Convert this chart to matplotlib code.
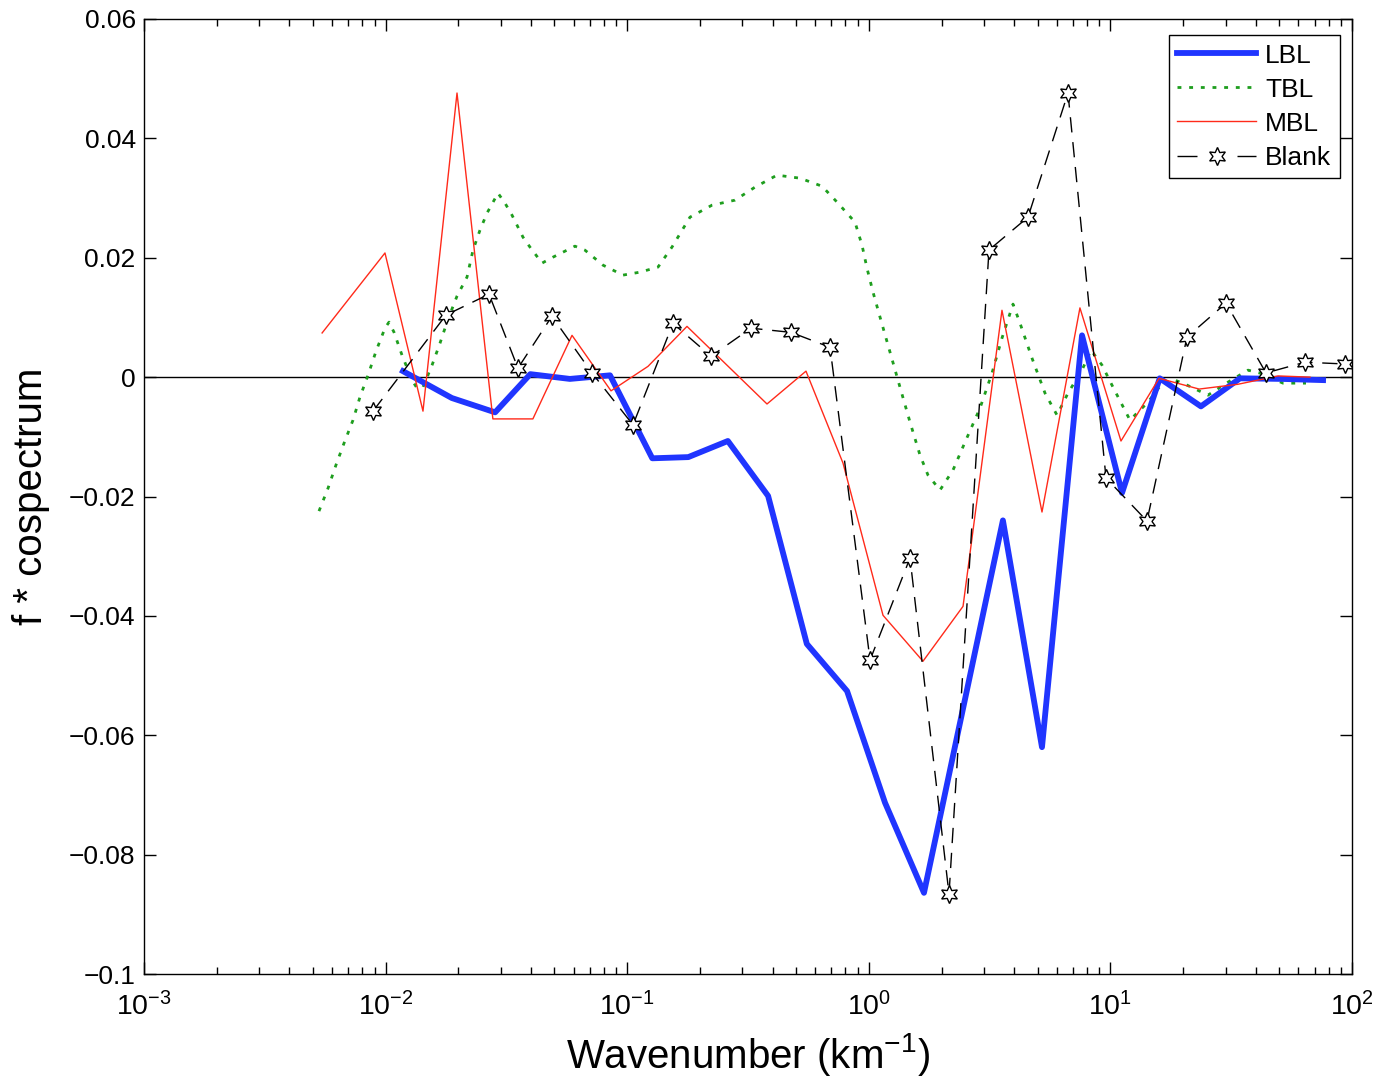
import numpy as np
import matplotlib
matplotlib.use('Agg')
import matplotlib.pyplot as plt
from matplotlib.ticker import LogLocator, FixedLocator, FuncFormatter

plt.rcParams['font.family'] = ['Liberation Sans', 'DejaVu Sans']
plt.rcParams['mathtext.fontset'] = 'custom'
plt.rcParams['mathtext.rm'] = 'Liberation Sans'
plt.rcParams['mathtext.it'] = 'Liberation Sans:italic'

# LBL (thick blue)
lbl_k = [0.0118, 0.0188, 0.0284, 0.0397, 0.0579, 0.0849, 0.127, 0.179, 0.261,
         0.383, 0.554, 0.813, 1.167, 1.692, 3.59, 5.21, 7.63, 11.17, 16.0,
         23.7, 34.4, 51.3, 75.9]
lbl_c = [0.0010, -0.0035, -0.0059, 0.0005, -0.0003, 0.0003, -0.0136, -0.0134,
         -0.0107, -0.0199, -0.0447, -0.0526, -0.0713, -0.0864, -0.0240, -0.0620,
         0.0070, -0.0194, -0.0002, -0.0049, -0.0002, -0.0003, -0.0005]

# TBL (green dotted)
tbl_k = [0.00530, 0.00578, 0.00623, 0.00673, 0.00733, 0.00783, 0.00846, 0.00913,
         0.00994, 0.01033, 0.01083, 0.01169, 0.01286, 0.01349, 0.01428, 0.01557,
         0.01680, 0.01813, 0.01975, 0.02172, 0.02300, 0.02458, 0.02628, 0.02919,
         0.03120, 0.03336, 0.03704, 0.03960, 0.04441, 0.04930, 0.05424, 0.06079,
         0.06687, 0.07939, 0.09607, 0.1130, 0.1341, 0.1532, 0.1819, 0.2244,
         0.2794, 0.3381, 0.4169, 0.5191, 0.6402, 0.7456, 0.8768, 0.9374, 0.9829,
         1.041, 1.113, 1.224, 1.346, 1.481, 1.629, 1.758, 1.971, 2.231, 2.502,
         2.886, 3.235, 3.558, 3.953, 4.224, 4.737, 5.362, 6.012, 6.675, 7.628,
         8.313, 9.231, 10.25, 12.05, 14.31, 16.51, 18.51, 20.76, 25.35, 30.68,
         37.11, 41.62, 51.81, 64.50]
tbl_c = [-0.02245, -0.01859, -0.01474, -0.01106, -0.00720, -0.00335, 0.00034,
         0.00436, 0.00821, 0.00921, 0.00754, 0.00369, -0.00050, -0.00184,
         -0.00168, 0.00201, 0.00570, 0.00972, 0.01357, 0.01675, 0.02127, 0.02462,
         0.02747, 0.03082, 0.02915, 0.02714, 0.02345, 0.02178, 0.01910, 0.02010,
         0.02094, 0.02194, 0.02127, 0.01876, 0.01709, 0.01759, 0.01843, 0.02178,
         0.02680, 0.02881, 0.02965, 0.03183, 0.03384, 0.03333, 0.03199, 0.02915,
         0.02596, 0.02211, 0.01826, 0.01424, 0.01005, 0.00419, -0.00168, -0.00754,
         -0.01307, -0.01642, -0.01893, -0.01558, -0.01089, -0.00519, 0.00067,
         0.00653, 0.01223, 0.00905, 0.00318, -0.00268, -0.00637, -0.00268,
         0.00117, 0.00452, 0.00201, -0.00168, -0.00720, -0.00419, -0.00084,
         -0.00050, -0.00134, -0.00302, -0.00084, 0.00117, 0.00067, -0.00101,
         -0.00101]

# MBL (thin red)
mbl_k = [0.00546, 0.00994, 0.01428, 0.01975, 0.0278, 0.0407, 0.0591, 0.0857,
         0.1219, 0.1768, 0.379, 0.5495, 0.782, 1.145, 1.676, 2.455, 3.558, 5.21,
         7.48, 11.06, 15.9, 23.3, 33.7, 49.4, 67.0]
mbl_c = [0.0074, 0.0208, -0.0057, 0.0476, -0.0070, -0.0070, 0.0070, -0.0023,
         0.0018, 0.0085, -0.0045, 0.0010, -0.0144, -0.0399, -0.0476, -0.0384,
         0.0112, -0.0226, 0.0116, -0.0107, -0.0002, -0.0020, -0.0012, 0.0002,
         0.0000]

# Blank (dashed black with hexagrams)
blank_k = [0.00887, 0.01778, 0.0268, 0.0353, 0.0488, 0.0715, 0.1057, 0.1547,
           0.2222, 0.3254, 0.4764, 0.691, 1.012, 1.481, 2.148, 3.144, 4.56,
           6.675, 9.59, 14.17, 20.75, 30.1, 44.06, 63.9, 93.6]
blank_c = [-0.0057, 0.0104, 0.0139, 0.0015, 0.0102, 0.0007, -0.0080, 0.0090,
           0.0035, 0.0082, 0.0075, 0.0050, -0.0474, -0.0303, -0.0866, 0.0213,
           0.0268, 0.0476, -0.0169, -0.0241, 0.0067, 0.0124, 0.0007, 0.0025,
           0.0022]

yticks = [0.06, 0.04, 0.02, 0, -0.02, -0.04, -0.06, -0.08, -0.1]

fig = plt.figure(figsize=(13.8, 10.81), dpi=100)
ax = fig.add_axes([144 / 1380, 107 / 1081, 1208 / 1380, 955 / 1081])

ax.axhline(0, color='k', lw=1, zorder=1)
ax.plot(lbl_k, lbl_c, color='#2035ff', lw=4.2, label='LBL', zorder=3)
ax.plot(tbl_k, tbl_c, color='#1e9e1e', lw=2.0, ls=(0, (1.4, 2.8)), label='TBL', zorder=2)
ax.plot(mbl_k, mbl_c, color='#ff2a1a', lw=1.0, label='MBL', zorder=4)
ax.plot(blank_k, blank_c, color='k', lw=1.0, ls=(0, (11, 7)), marker=(6, 1, 0),
        ms=13, mfc='white', mec='k', mew=1.0, label='Blank', zorder=5)

ax.set_xscale('log')
ax.set_xlim(1e-3, 1e2)
ax.set_ylim(-0.1, 0.06)
ax.xaxis.set_major_locator(LogLocator(base=10, numticks=10))
ax.xaxis.set_minor_locator(LogLocator(base=10, subs=np.arange(2, 10), numticks=20))
ax.yaxis.set_major_locator(FixedLocator(yticks))
ax.yaxis.set_major_formatter(FuncFormatter(lambda v, p: ('%g' % v).replace('-', '\u2212')))

ax.tick_params(which='both', direction='in', top=True, right=True, labelsize=19, width=1)
ax.tick_params(which='major', length=8.6)
ax.tick_params(which='minor', length=4.8)
ax.tick_params(axis='y', pad=6)
ax.tick_params(axis='x', pad=13, labelsize=20.5)
for s in ax.spines.values():
    s.set_linewidth(1)

ax.set_xlabel('Wavenumber (km$^{-1}$)', fontsize=29, labelpad=7)
ax.set_ylabel('f * cospectrum', fontsize=29, labelpad=14)

leg = ax.legend(loc='upper right', bbox_to_anchor=(0.990, 0.983), borderaxespad=0,
                fontsize=19, handlelength=3.0, handletextpad=0.35, labelspacing=0.38,
                borderpad=0.32, fancybox=False, framealpha=1, edgecolor='k', numpoints=1)
leg.get_frame().set_linewidth(1)
leg.get_lines()[3].set_linestyle((0, (14.4, 28.8)))

fig.savefig('out.png', dpi=100)
